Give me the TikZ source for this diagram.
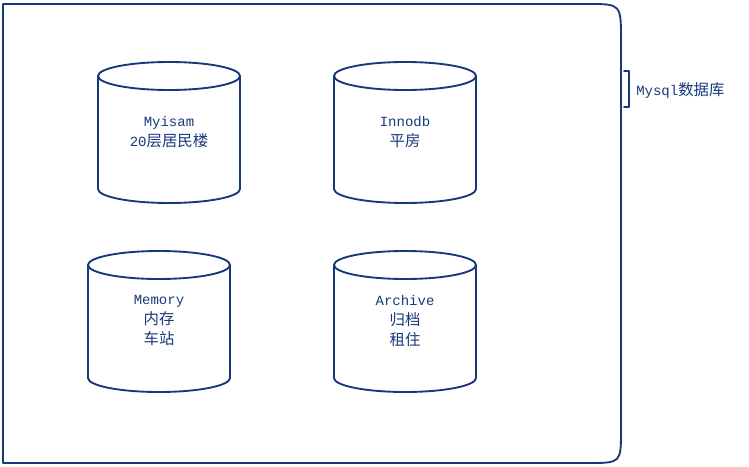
\documentclass[tikz,border=0pt]{standalone}
\usepackage{fontspec}
\setmainfont{Liberation Mono}
\newfontfamily\cjk[Scale=1.1]{Noto Sans CJK SC}
\definecolor{ink}{HTML}{17397A}
\tikzset{
  line/.style={draw=ink,line width=1.4pt,line join=round,line cap=round},
  lbl/.style={text=ink,font=\fontsize{10.5}{15}\selectfont,align=center,inner sep=0pt}
}
% #1 left, #2 right, #3 top ellipse centre y, #4 bottom ellipse centre y
\newcommand\dbcyl[4]{%
  \draw[line] ({(#1+#2)/2},#3) ellipse [x radius={(#2-#1)/2}, y radius=14];
  \draw[line] (#1,#3) -- (#1,#4)
     .. controls (#1,{#4+7.73}) and ({(#1+#2)/2-0.5523*(#2-#1)/2},{#4+14}) .. ({(#1+#2)/2},{#4+14})
     .. controls ({(#1+#2)/2+0.5523*(#2-#1)/2},{#4+14}) and (#2,{#4+7.73}) .. (#2,#4) -- (#2,#3);
}
\begin{document}
\begin{tikzpicture}[x=0.75pt,y=-0.75pt]
\useasboundingbox (0,0) rectangle (749,467);
% outer database box
\draw[line] (3,463) -- (3,4) -- (588,4) .. controls (621,4) .. (621,40) -- (621,430)
  .. controls (621,463) .. (588,463) -- cycle;
% cylinders
\dbcyl{98}{240}{76}{189}
\dbcyl{334}{476}{76}{189}
\dbcyl{88}{230}{265}{378}
\dbcyl{334}{476}{265}{378}
\node[lbl] (myisam) at (169,132) {Myisam\\20{\cjk 层居民楼}};
\node[lbl] (innodb) at (405,132) {Innodb\\{\cjk 平房}};
\node[lbl] (memory) at (159,321) {Memory\\{\cjk 内存}\\{\cjk 车站}};
\node[lbl] (archive) at (405,321) {Archive\\{\cjk 归档}\\{\cjk 租住}};
% bracket and label
\coordinate (bt) at (624,71);
\coordinate (bb) at (624,107);
\node[lbl,anchor=west] (mysql) at (636,90) {Mysql{\cjk 数据库}};
\draw[line,line width=1.2pt] (bt) -- (629,71) -- (629,107) -- (bb);
\end{tikzpicture}
\end{document}
